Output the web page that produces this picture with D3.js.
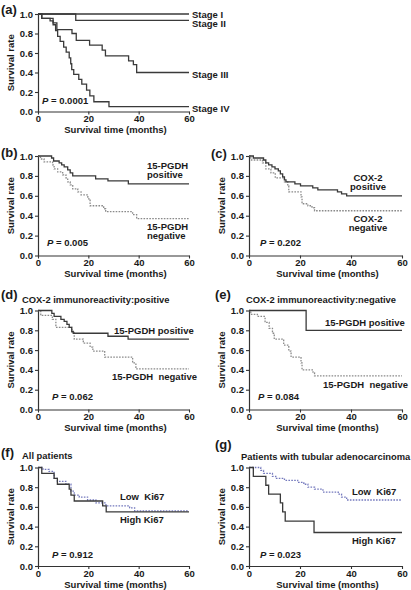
<!DOCTYPE html>
<html><head><meta charset="utf-8">
<script src="https://cdn.jsdelivr.net/npm/d3@7"></script>
<style>
body{margin:0;background:#fff}
text{font-family:"Liberation Sans",Arial,Helvetica,sans-serif;font-weight:bold;fill:#1a1a1a}
</style>
</head><body>
<svg id="c" width="411" height="590"></svg>
<script>
const xTicks = [0, 20, 40, 60];
const yTicks = [0, 0.2, 0.4, 0.6, 0.8, 1.0];

// (a) stages
const stageI = [[0,1],[60,1]];
const stageII = [[0,1],[15,0.935],[60,0.935]];
const stageIII = [[0,1],[1.5,0.955],[6,0.91],[7.5,0.84],[13.5,0.80],[15.2,0.73],[20.5,0.68],[25.5,0.63],[26.8,0.57],[36,0.52],[37.9,0.48],[39.2,0.40],[60,0.40]];
const stageIV = [[0,1],[1.5,0.955],[4.8,0.93],[6,0.89],[7,0.83],[7.8,0.77],[8.8,0.72],[10.2,0.66],[11.2,0.61],[12.4,0.55],[13,0.49],[13.4,0.43],[14.2,0.38],[16.2,0.33],[17.4,0.28],[19.3,0.22],[20.6,0.16],[22.2,0.10],[28.2,0.05],[60,0.05]];

// (b) 15-PGDH
const bPositive = [[0,1],[5.4,0.98],[6.2,0.95],[8.4,0.93],[9.4,0.91],[10.4,0.89],[11.8,0.86],[12.8,0.83],[13.8,0.80],[22.9,0.77],[27.8,0.75],[35.9,0.72],[60,0.72]];
const bNegative = [[0,1],[1,0.97],[2.4,0.94],[5.8,0.91],[6.4,0.87],[7.8,0.84],[9.8,0.81],[11.1,0.78],[11.8,0.74],[12.8,0.71],[13.8,0.67],[15.8,0.64],[17.1,0.61],[19.8,0.57],[20.7,0.50],[26.1,0.47],[26.9,0.44],[37.6,0.41],[39.2,0.37],[60,0.37]];

// (c) COX-2
const cPositive = [[0,1],[1.7,0.98],[5.7,0.96],[6.6,0.93],[7.7,0.91],[9,0.89],[10.2,0.87],[11.5,0.85],[12.3,0.82],[13.2,0.79],[13.9,0.76],[14.5,0.74],[18,0.72],[20.2,0.70],[25,0.68],[27,0.66],[34.7,0.64],[36.3,0.62],[38.3,0.60],[60,0.60]];
const cNegative = [[0,1],[0.7,0.96],[5.3,0.93],[6.6,0.87],[8.6,0.83],[10.3,0.78],[13.9,0.74],[15.2,0.70],[15.6,0.64],[20.4,0.59],[20.8,0.52],[23.1,0.50],[24.7,0.48],[25.7,0.45],[60,0.45]];

// (d) COX-2 positive subgroup
const dPositive = [[0,1],[5.5,0.97],[6.4,0.94],[9.1,0.91],[10.4,0.89],[11.5,0.86],[12.4,0.83],[13.4,0.79],[14,0.77],[27.8,0.74],[35.8,0.71],[60,0.71]];
const dNegative = [[0,1],[1.1,0.95],[5.7,0.91],[7.1,0.83],[13.5,0.78],[14.4,0.71],[18,0.67],[20.7,0.63],[21.8,0.59],[26.5,0.53],[37.6,0.47],[38.9,0.41],[60,0.41]];

// (e) COX-2 negative subgroup
const ePositive = [[0,1],[22.4,0.80],[60,0.80]];
const eNegative = [[0,1],[0.7,0.96],[3.3,0.94],[6.3,0.88],[7.9,0.82],[9.2,0.77],[9.9,0.71],[13.6,0.65],[15.6,0.59],[16.5,0.53],[20.4,0.47],[20.8,0.40],[25.1,0.37],[25.7,0.34],[60,0.34]];

// (f) all patients Ki67
const fHigh = [[0,1],[1.5,0.94],[6.4,0.89],[7.7,0.83],[12.4,0.78],[13.1,0.72],[14.4,0.66],[25.7,0.61],[27.1,0.55],[60,0.55]];
const fLow = [[0,1],[2,0.98],[4.4,0.96],[6.4,0.89],[7.7,0.86],[11.1,0.83],[13.1,0.76],[14.4,0.72],[16.4,0.70],[19.7,0.67],[23,0.64],[27,0.61],[36.4,0.59],[38.4,0.56],[60,0.56]];

// (g) tubular adenocarcinoma Ki67
const gHigh = [[0,1],[1.7,0.91],[6.6,0.82],[7.7,0.73],[12.3,0.64],[13.2,0.55],[14.2,0.455],[25.5,0.34],[60,0.34]];
const gLow = [[0,1],[4.6,0.97],[5.7,0.94],[9.2,0.91],[10.5,0.89],[13.9,0.87],[19.1,0.85],[21.5,0.83],[23.1,0.80],[25.7,0.78],[29,0.75],[35,0.73],[36.3,0.70],[38.3,0.67],[60,0.67]];

const SOLID = {color:"#3a3a3a", dash:null};
const DOT = {color:"#8a8a8a", dash:"1.6,1.3"};
const BLUE = {color:"#7479bd", dash:"1.6,1.3"};

const panels = [
  {letter:"(a)", lp:[1,13.5], x:[38,189], y:[111.5,14], title:null,
   series:[[stageI,SOLID],[stageII,SOLID],[stageIII,SOLID],[stageIV,SOLID]],
   labels:[["Stage I",192,17.5],["Stage II",192,26.5],["Stage III",192,77.5],["Stage IV",192,111.5]],
   p:["0.0001",42,103.5]},
  {letter:"(b)", lp:[1,157], x:[38,189], y:[255.5,156], title:null,
   series:[[bNegative,DOT],[bPositive,SOLID]],
   labels:[["15-PGDH",147,168.5],["positive",147,178],["15-PGDH",147,229.5],["negative",147,239]],
   p:["0.005",47,246]},
  {letter:"(c)", lp:[211,158], x:[249,402], y:[255.5,156], title:null,
   series:[[cNegative,DOT],[cPositive,SOLID]],
   labels:[["COX-2",368,180.5,"middle"],["positive",368,190,"middle"],["COX-2",368,221.5,"middle"],["negative",368,231,"middle"]],
   p:["0.202",260,246]},
  {letter:"(d)", lp:[1,299], x:[38,189], y:[409.5,310.5], title:["COX-2 immunoreactivity:positive",22,302.5],
   series:[[dNegative,DOT],[dPositive,SOLID]],
   labels:[["15-PGDH positive",114,334],["15-PGDH\u00a0 negative",112,380]],
   p:["0.062",52,400]},
  {letter:"(e)", lp:[215,299], x:[249,402], y:[409.5,310.5], title:["COX-2 immunoreactivity:negative",246,302.5],
   series:[[eNegative,DOT],[ePositive,SOLID]],
   labels:[["15-PGDH positive",325,326],["15-PGDH\u00a0 negative",323,388]],
   p:["0.084",258,400]},
  {letter:"(f)", lp:[1,457], x:[38,189], y:[566,467.5], title:["All patients",22,459],
   series:[[fLow,BLUE],[fHigh,SOLID]],
   labels:[["Low\u00a0 Ki67",120,500],["High Ki67",120,523]],
   p:["0.912",52,558]},
  {letter:"(g)", lp:[215,449], x:[249,402], y:[566,467.5], title:["Patients with tubular adenocarcinoma",241,460],
   series:[[gLow,BLUE],[gHigh,SOLID]],
   labels:[["Low\u00a0 Ki67",352,495],["High Ki67",352,544]],
   p:["0.023",260,558]}
];

const svg = d3.select("#c");
const FS = "9.5px";

panels.forEach(P => {
  const g = svg.append("g");
  const xs = d3.scaleLinear().domain([0,60]).range(P.x);
  const ys = d3.scaleLinear().domain([0,1]).range(P.y);

  // axes
  const xa = g.append("g").attr("transform",`translate(0,${P.y[0]})`)
    .call(d3.axisBottom(xs).tickValues(xTicks).tickFormat(d3.format("d")).tickSize(3).tickSizeOuter(0));
  const ya = g.append("g").attr("transform",`translate(${P.x[0]},0)`)
    .call(d3.axisLeft(ys).tickValues(yTicks).tickFormat(d3.format(".1f")).tickSize(3).tickSizeOuter(0));
  [xa,ya].forEach(a=>{
    a.select(".domain").attr("stroke","#333").attr("stroke-width",1.2);
    a.selectAll(".tick line").attr("stroke","#333").attr("stroke-width",1.1);
    a.selectAll(".tick text").attr("fill","#1a1a1a").style("font-size","9.5px")
      .style("font-family","'Liberation Sans',Arial,sans-serif").style("font-weight","bold");
  });
  xa.selectAll(".tick text").attr("dy","0.71em").attr("y",4);
  ya.selectAll(".tick text").attr("x",-5);

  // axis titles
  const xc = (P.x[0]+P.x[1])/2;
  g.append("text").attr("x",xc + 2).attr("y",P.y[0]+21.5)
    .attr("text-anchor","middle").style("font-size",FS).text("Survival time (months)");
  const yc = (P.y[0]+P.y[1])/2;
  g.append("text").attr("transform",`translate(${P.x[0]-24},${yc}) rotate(-90)`)
    .attr("text-anchor","middle").style("font-size",FS).text("Survival rate");

  // curves
  const line = d3.line().x(d=>xs(d[0])).y(d=>ys(d[1])).curve(d3.curveStepAfter);
  P.series.forEach(([data,st])=>{
    g.append("path").datum(data).attr("d",line).attr("fill","none")
      .attr("stroke",st.color).attr("stroke-width",1.3)
      .attr("stroke-dasharray",st.dash);
  });

  // letter
  g.append("text").attr("x",P.lp[0]).attr("y",P.lp[1]).style("font-size","13px").text(P.letter);
  // title
  if (P.title) g.append("text").attr("x",P.title[1]).attr("y",P.title[2]).style("font-size","9.4px").text(P.title[0]);
  // labels
  P.labels.forEach(l=>{
    g.append("text").attr("x",l[1]).attr("y",l[2]).attr("text-anchor",l[3]||"start")
      .style("font-size",FS).text(l[0]);
  });
  // P value
  const pt = g.append("text").attr("x",P.p[1]).attr("y",P.p[2]).style("font-size",FS);
  pt.append("tspan").style("font-style","italic").text("P");
  pt.append("tspan").text(" = " + P.p[0]);
});
</script>
</body></html>
